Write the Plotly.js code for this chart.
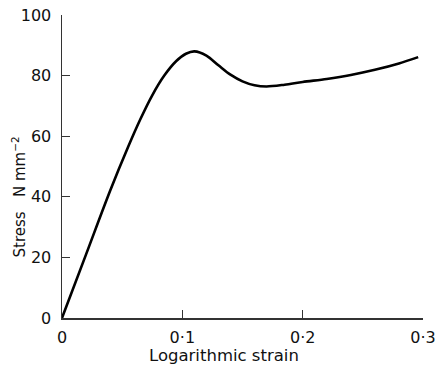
<!DOCTYPE html>
<html>
<head>
<meta charset="utf-8">
<script src="https://cdn.plot.ly/plotly-3.0.1.min.js"></script>
<style>html,body{margin:0;padding:0;background:#fff;}#chart{width:437px;height:367px;}</style>
</head>
<body>
<div id="chart"></div>
<script>
const strain = [0, 0.02, 0.04, 0.055, 0.065, 0.075, 0.085, 0.095, 0.103, 0.11, 0.12, 0.13, 0.14, 0.15, 0.16, 0.17, 0.185, 0.2, 0.22, 0.24, 0.26, 0.28, 0.296];
const stress = [0, 21, 42, 56.5, 65.5, 73.5, 80, 84.8, 87.2, 88, 86.6, 83.4, 80.3, 78.1, 76.8, 76.4, 77.0, 77.9, 78.9, 80.2, 81.9, 84, 86.1];
const xTickVals = [0, 0.1, 0.2, 0.3];
const xTickText = ["0", "0·1", "0·2", "0·3"];
const yTickVals = [0, 20, 40, 60, 80, 100];
const yTickText = ["0", "20", "40", "60", "80", "100"];

const font = {family: "DejaVu Sans, sans-serif", color: "#111"};

Plotly.newPlot("chart", [{
  x: strain, y: stress, type: "scatter", mode: "lines",
  line: {color: "#000", width: 2.6, shape: "spline", smoothing: 0.9},
  hoverinfo: "skip"
}], {
  width: 437, height: 367,
  margin: {l: 62, r: 14, t: 15, b: 49},
  paper_bgcolor: "#fff", plot_bgcolor: "#fff",
  showlegend: false,
  xaxis: {
    range: [0, 0.3], tickvals: xTickVals, ticktext: xTickText,
    ticks: "inside", ticklen: 8, tickwidth: 1.2, tickcolor: "#333",
    showline: true, linecolor: "#333", linewidth: 1.5,
    showgrid: false, zeroline: false, ticklabelstandoff: 4,
    tickfont: Object.assign({size: 16}, font)
  },
  yaxis: {
    range: [0, 100], tickvals: yTickVals, ticktext: yTickText,
    ticks: "inside", ticklen: 8, tickwidth: 1.2, tickcolor: "#333",
    showline: true, linecolor: "#333", linewidth: 1.5,
    showgrid: false, zeroline: false, ticklabelstandoff: 6,
    tickfont: Object.assign({size: 16}, font)
  },
  annotations: [{
    text: "Stress   N mm<sup>−2</sup>", textangle: -90,
    xref: "paper", yref: "paper", x: -0.12, y: 0.40,
    xanchor: "center", yanchor: "middle", showarrow: false,
    font: Object.assign({size: 15}, font)
  }, {
    text: "Logarithmic strain",
    xref: "paper", yref: "paper", x: 0.449, y: -0.125,
    xanchor: "center", yanchor: "middle", showarrow: false,
    font: Object.assign({size: 16.5}, font)
  }]
}, {staticPlot: true});
</script>
</body>
</html>
